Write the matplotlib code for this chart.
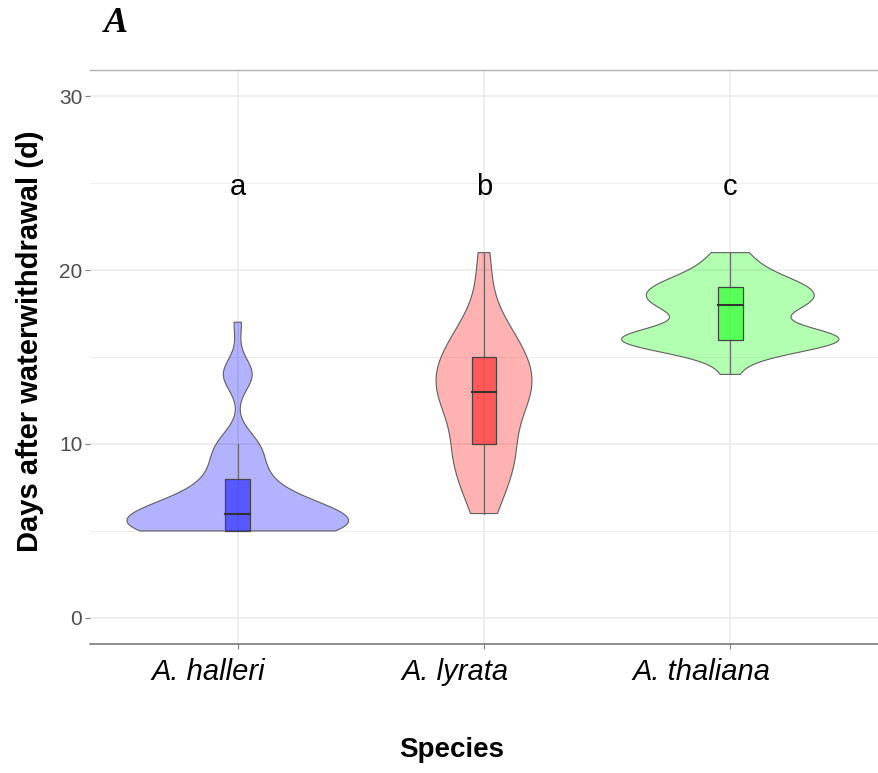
import numpy as np
import matplotlib
matplotlib.use("Agg")
import matplotlib.pyplot as plt
import matplotlib.transforms as mtransforms
from matplotlib.patches import Polygon, Rectangle

# ---------------- data (observations: day value and number of plants) ----------------
species = ["A. halleri", "A. lyrata", "A. thaliana"]
halleri_days = [5, 6, 7, 8, 9, 10, 14, 17]
halleri_counts = [18, 16, 6, 4, 3, 4, 4, 1]
lyrata_days = [6, 7, 8, 9, 10, 11, 12, 13, 14, 15, 16, 17, 18, 20, 21]
lyrata_counts = [2, 1, 3, 3, 4, 1, 4, 6, 4, 5, 3, 2, 1, 1, 1]
thaliana_days = [14, 15, 16, 17, 18, 19, 20, 21]
thaliana_counts = [1, 1, 18, 1, 9, 9, 3, 2]
group_letters = ["a", "b", "c"]
letter_y = 24.8
fill_colors = ["#0000FF", "#FF0000", "#00FF00"]
y_ticks = [0, 10, 20, 30]

groups = [np.repeat(halleri_days, halleri_counts).astype(float),
          np.repeat(lyrata_days, lyrata_counts).astype(float),
          np.repeat(thaliana_days, thaliana_counts).astype(float)]

plt.rcParams['font.family'] = ['Liberation Sans', 'DejaVu Sans']

fig = plt.figure(figsize=(8.79, 7.73), dpi=100)
W, H = 879, 773
ax = fig.add_axes([90 / W, 1 - 644 / H, (878 - 90) / W, (644 - 70) / H])
ax.set_xlim(0.4, 3.6)
ax.set_ylim(-1.5, 31.5)


def nrd0(x):
    sd = np.std(x, ddof=1)
    q75, q25 = np.percentile(x, [75, 25])
    lo = min(sd, (q75 - q25) / 1.34)
    return 0.9 * lo * len(x) ** -0.2


def kde(x):
    h = nrd0(x)
    y = np.linspace(x.min(), x.max(), 512)
    d = np.exp(-0.5 * ((y[:, None] - x[None, :]) / h) ** 2).sum(1) / (len(x) * h * np.sqrt(2 * np.pi))
    return y, d


dens = [kde(g) for g in groups]
dmax = max(d.max() for _, d in dens)

# grid
for v in [5, 15, 25]:
    ax.axhline(v, color="#EBEBEB", lw=0.6, zorder=0)
for v in y_ticks:
    ax.axhline(v, color="#EBEBEB", lw=1.1, zorder=0)
for i in range(len(species)):
    ax.axvline(i + 1, color="#EBEBEB", lw=1.1, zorder=0)

for i, (g, (y, d)) in enumerate(zip(groups, dens)):
    pos = i + 1
    half = d / dmax * 0.45
    xs = np.concatenate([pos - half, (pos + half)[::-1]])
    ys = np.concatenate([y, y[::-1]])
    ax.add_patch(Polygon(np.column_stack([xs, ys]), closed=True,
                         facecolor=fill_colors[i], alpha=0.3, edgecolor="none", zorder=2))
    ax.add_patch(Polygon(np.column_stack([xs, ys]), closed=True,
                         facecolor="none", edgecolor="#5f5f5f", lw=0.8, zorder=3))
    # boxplot
    q1, med, q3 = np.percentile(g, [25, 50, 75])
    iqr = q3 - q1
    lo = g[g >= q1 - 1.5 * iqr].min()
    hi = g[g <= q3 + 1.5 * iqr].max()
    ax.plot([pos, pos], [q3, hi], color="#6a6a6a", lw=0.9, zorder=4)
    ax.plot([pos, pos], [lo, q1], color="#6a6a6a", lw=0.9, zorder=4)
    bw = 0.1
    ax.add_patch(Rectangle((pos - bw / 2, q1), bw, q3 - q1, facecolor=fill_colors[i],
                           alpha=0.5, edgecolor="none", zorder=5))
    ax.add_patch(Rectangle((pos - bw / 2, q1), bw, q3 - q1, facecolor="none",
                           edgecolor="#444444", lw=0.9, zorder=6))
    ax.plot([pos - bw / 2, pos + bw / 2], [med, med], color="#333333", lw=1.5, zorder=7)
    ax.text(pos, letter_y, group_letters[i], ha="center", va="center", fontsize=21, color="black")

ax.set_xticks(range(1, len(species) + 1))
ax.set_xticklabels([])
lab_trans = ax.get_xaxis_transform() + mtransforms.ScaledTranslation(-29 / 100, -14 / 100, fig.dpi_scale_trans)
for i, name in enumerate(species):
    ax.text(i + 1, 0, name, transform=lab_trans, ha="center", va="top", fontsize=21,
            style="italic", color="black", clip_on=False)
ax.set_yticks(y_ticks)
ax.set_yticklabels([str(v) for v in y_ticks], fontsize=15, color="#4D4D4D")
ax.tick_params(axis="both", length=3.5, width=0.8, color="#7f7f7f")
ax.tick_params(axis="y", pad=2)

for s in ["left", "right"]:
    ax.spines[s].set_visible(False)
ax.spines["top"].set_color("#B3B3B3")
ax.spines["top"].set_linewidth(1.0)
ax.spines["bottom"].set_color("#6E6E6E")
ax.spines["bottom"].set_linewidth(1.1)

fig.text(452 / W, 1 - 750 / H, "Species", ha="center", va="center", fontsize=20, fontweight="bold")
fig.text(30 / W, 1 - 341 / H, "Days after waterwithdrawal (d)", ha="center", va="center",
         rotation=90, fontsize=21, fontweight="bold")
fig.text(116 / W, 1 - 23 / H, "A", ha="center", va="center", fontsize=26, fontweight="bold",
         style="italic", family=["Liberation Serif", "DejaVu Serif"])

fig.savefig("out.png", dpi=100)
